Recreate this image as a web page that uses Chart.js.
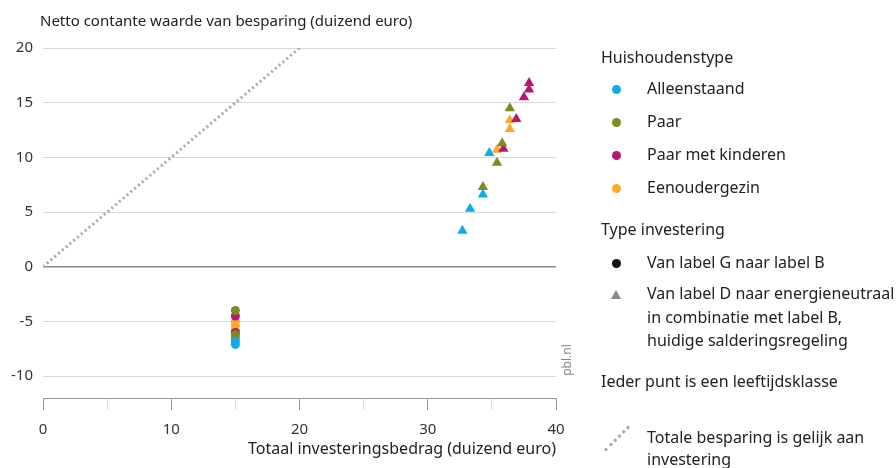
<!DOCTYPE html>
<html>
<head>
<meta charset="utf-8">
<script src="https://cdn.jsdelivr.net/npm/chart.js@4"></script>
<style>
  body { margin: 0; background: #fff; font-family: "Noto Sans", sans-serif; color: #222; }
  #wrap { position: relative; width: 896px; height: 468px; }
  #legend { position: absolute; left: 0; top: 0; font-size: 16px; }
  .lg { position: absolute; white-space: nowrap; line-height: 23px; }
  .dot { position: absolute; width: 9px; height: 9px; border-radius: 50%; }
  .tri { position: absolute; width: 0; height: 0; border-left: 5px solid transparent; border-right: 5px solid transparent; border-bottom: 9px solid #888; }
</style>
</head>
<body>
<div id="wrap">
  <canvas id="c" width="896" height="468"></canvas>
  <div id="legend"></div>
</div>
<script>
// Household types and colours
const households = ['Alleenstaand', 'Paar', 'Paar met kinderen', 'Eenoudergezin'];
const colours = ['#14aae6', '#7e8b25', '#b5176f', '#f9aa2d'];

// Van label G naar label B (circles), investment 15k for all
const alleenstaandGx = [15, 15];
const alleenstaandGy = [-7.1, -6.8];
const paarGx = [15, 15, 15];
const paarGy = [-4.0, -6.2, -6.5];
const kinderenGx = [15, 15];
const kinderenGy = [-4.5, -6.0];
const eenouderGx = [15, 15, 15];
const eenouderGy = [-5.0, -5.4, -5.8];

// Van label D naar energieneutraal (triangles)
const alleenstaandDx = [32.7, 33.3, 34.3, 34.8];
const alleenstaandDy = [3.3, 5.3, 6.6, 10.4];
const paarDx = [34.3, 35.4, 35.8, 36.4];
const paarDy = [7.3, 9.5, 11.3, 14.5];
const kinderenDx = [35.9, 36.9, 37.5, 37.9, 37.9];
const kinderenDy = [10.8, 13.5, 15.5, 16.2, 16.8];
const eenouderDx = [35.4, 36.4, 36.4];
const eenouderDy = [10.7, 12.6, 13.4];

// Line: totale besparing = investering
const equalX = [0, 20];
const equalY = [0, 20];

const yTicks = [-10, -5, 0, 5, 10, 15, 20];
const xTicks = [0, 5, 10, 15, 20, 25, 30, 35, 40];

const pts = (xs, ys) => xs.map((x, i) => ({ x: x, y: ys[i] }));

const circleSets = [[alleenstaandGx, alleenstaandGy], [paarGx, paarGy], [kinderenGx, kinderenGy], [eenouderGx, eenouderGy]];
const triSets = [[alleenstaandDx, alleenstaandDy], [paarDx, paarDy], [kinderenDx, kinderenDy], [eenouderDx, eenouderDy]];

const datasets = [{
  type: 'line',
  label: 'Totale besparing is gelijk aan investering',
  data: pts(equalX, equalY),
  borderColor: '#aaaaaa',
  borderWidth: 3,
  borderDash: [2, 3],
  pointRadius: 0,
  fill: false
}];
households.forEach((h, i) => {
  datasets.push({
    label: h + ' G-B',
    data: pts(circleSets[i][0], circleSets[i][1]),
    pointStyle: 'circle',
    pointRadius: 4.5,
    backgroundColor: colours[i],
    borderWidth: 0
  });
});
households.forEach((h, i) => {
  datasets.push({
    label: h + ' D-0',
    data: pts(triSets[i][0], triSets[i][1]),
    pointStyle: 'triangle',
    pointRadius: 6,
    backgroundColor: colours[i],
    borderWidth: 0
  });
});

const FONT = '"Noto Sans", sans-serif';

const extraText = {
  id: 'extraText',
  afterDraw(chart) {
    const ctx = chart.ctx;
    ctx.save();
    ctx.fillStyle = '#222';
    ctx.font = '15px ' + FONT;
    ctx.textBaseline = 'middle';
    ctx.textAlign = 'left';
    ctx.fillText('Netto contante waarde van besparing (duizend euro)', 40, 22);
    ctx.fillStyle = '#8a8a8a';
    ctx.font = '12px ' + FONT;
    ctx.translate(568, 360);
    ctx.rotate(-Math.PI / 2);
    ctx.textAlign = 'center';
    ctx.fillText('pbl.nl', 0, 0);
    ctx.restore();
  }
};

new Chart(document.getElementById('c'), {
  type: 'scatter',
  data: { datasets: datasets },
  options: {
    responsive: false,
    animation: false,
    layout: { padding: { top: 48, right: 340, left: 0, bottom: 0 } },
    plugins: { legend: { display: false }, tooltip: { enabled: false } },
    scales: {
      x: {
        type: 'linear', min: 0, max: 40,
        afterBuildTicks: s => { s.ticks = xTicks.map(v => ({ value: v })); },
        afterFit: s => { s.height = 70; },
        border: { display: true, color: '#999', width: 1 },
        grid: {
          drawOnChartArea: false, drawTicks: true, tickLength: 12,
          color: c => (c.tick && c.tick.value % 10 === 0) ? '#999' : '#ddd'
        },
        ticks: {
          padding: 11, color: '#333', font: { family: FONT, size: 15 },
          callback: v => (v % 10 === 0 ? v : '')
        },
        title: {
          display: true, align: 'end', text: 'Totaal investeringsbedrag (duizend euro)',
          color: '#222', font: { family: FONT, size: 16 }, padding: { top: 4, bottom: 9 }
        }
      },
      y: {
        type: 'linear', min: -12, max: 20,
        afterBuildTicks: s => { s.ticks = yTicks.map(v => ({ value: v })); },
        afterFit: s => { s.width = 43; },
        border: { display: false },
        grid: {
          drawTicks: false,
          color: c => (c.tick && c.tick.value === 0) ? '#8c8c8c' : '#d9d9d9',
          lineWidth: c => (c.tick && c.tick.value === 0) ? 1.5 : 1
        },
        ticks: { padding: 10, color: '#333', font: { family: FONT, size: 15 } }
      }
    }
  },
  plugins: [extraText]
});

// HTML legend
const legend = document.getElementById('legend');
function addText(txt, x, y) {
  const d = document.createElement('div');
  d.className = 'lg';
  d.textContent = txt;
  d.style.left = x + 'px';
  d.style.top = (y - 12) + 'px';
  legend.appendChild(d);
}
function addDot(col, x, y, size) {
  const d = document.createElement('div');
  d.className = 'dot';
  d.style.background = col;
  d.style.width = d.style.height = size + 'px';
  d.style.left = (x - size / 2) + 'px';
  d.style.top = (y - size / 2) + 'px';
  legend.appendChild(d);
}
addText('Huishoudenstype', 601, 58);
const legendY = [89, 122, 155, 188];
households.forEach((h, i) => {
  addDot(colours[i], 616, legendY[i], 9);
  addText(h, 647, legendY[i]);
});
addText('Type investering', 601, 230);
addDot('#111', 616, 263, 9);
addText('Van label G naar label B', 647, 263);
const tri = document.createElement('div');
tri.className = 'tri';
tri.style.left = '611px';
tri.style.top = '290px';
legend.appendChild(tri);
addText('Van label D naar energieneutraal', 647, 294);
addText('in combinatie met label B,', 647, 318);
addText('huidige salderingsregeling', 647, 341);
addText('Ieder punt is een leeftijdsklasse', 601, 382);
addText('Totale besparing is gelijk aan', 647, 438);
addText('investering', 647, 460);
const ln = document.createElement('div');
ln.style.cssText = 'position:absolute;left:600px;top:437px;width:34px;border-top:3px dotted #aaa;transform:rotate(-45deg);';
legend.appendChild(ln);
</script>
</body>
</html>
